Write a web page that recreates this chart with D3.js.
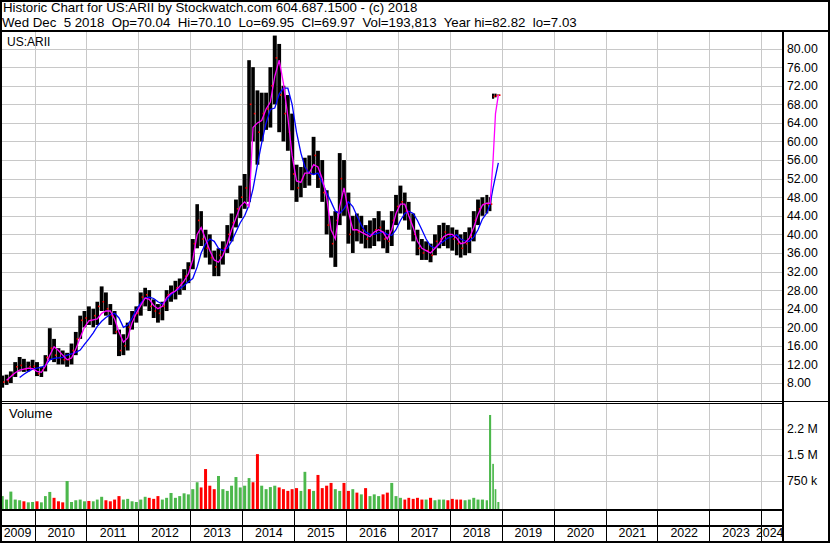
<!DOCTYPE html>
<html><head><meta charset="utf-8">
<script src="https://cdn.jsdelivr.net/npm/d3@7"></script>
<style>
body{margin:0;background:#fff}
svg{display:block}
text{font-family:"Liberation Sans",Arial,sans-serif;fill:#000}
</style>
</head><body>
<svg id="c" width="830" height="543"></svg>
<script>
// ---- DATA (monthly bars) ----
const dates = [
"2009-05","2009-06","2009-07","2009-08","2009-09","2009-10","2009-11","2009-12",
"2010-01","2010-02","2010-03","2010-04","2010-05","2010-06","2010-07","2010-08","2010-09","2010-10","2010-11","2010-12",
"2011-01","2011-02","2011-03","2011-04","2011-05","2011-06","2011-07","2011-08","2011-09","2011-10","2011-11","2011-12",
"2012-01","2012-02","2012-03","2012-04","2012-05","2012-06","2012-07","2012-08","2012-09","2012-10","2012-11","2012-12",
"2013-01","2013-02","2013-03","2013-04","2013-05","2013-06","2013-07","2013-08","2013-09","2013-10","2013-11","2013-12",
"2014-01","2014-02","2014-03","2014-04","2014-05","2014-06","2014-07","2014-08","2014-09","2014-10","2014-11","2014-12",
"2015-01","2015-02","2015-03","2015-04","2015-05","2015-06","2015-07","2015-08","2015-09","2015-10","2015-11","2015-12",
"2016-01","2016-02","2016-03","2016-04","2016-05","2016-06","2016-07","2016-08","2016-09","2016-10","2016-11","2016-12",
"2017-01","2017-02","2017-03","2017-04","2017-05","2017-06","2017-07","2017-08","2017-09","2017-10","2017-11","2017-12",
"2018-01","2018-02","2018-03","2018-04","2018-05","2018-06","2018-07","2018-08","2018-09","2018-10-08","2018-10-29","2018-11-15","2018-12-05"];

const highs = [
9.6,9.8,10.5,12.5,13.6,13.2,12.6,13.0,
12.5,11.5,14.0,19.8,17.5,15.5,15.0,14.5,16.5,19.0,22.5,23.5,
24.5,24.0,25.5,28.8,27.5,25.0,23.5,19.5,18.5,21.0,23.5,24.5,
27.5,28.5,28.0,26.0,25.0,25.5,28.0,29.0,30.0,30.5,32.5,34.0,
39.0,46.5,45.0,41.0,40.0,36.5,37.0,38.5,42.0,44.5,47.5,50.5,
53.0,77.5,76.0,71.0,70.5,70.5,76.0,82.8,81.0,72.0,70.0,66.0,
55.0,54.5,56.5,57.0,61.0,58.0,56.0,49.5,44.0,45.0,57.5,56.0,
49.0,44.0,44.5,44.0,42.0,43.0,43.5,45.0,43.0,41.0,45.0,48.5,
50.5,49.0,47.0,44.5,41.0,39.0,38.5,38.0,40.0,42.0,42.5,42.0,
41.5,41.0,40.0,40.5,41.5,45.0,47.5,48.0,48.5,48.0,70.3,70.3,70.1];

const lows = [
7.0,7.6,8.0,9.3,10.5,10.4,10.5,10.8,
9.5,9.3,10.5,13.0,12.5,12.0,12.0,11.5,12.0,14.0,17.5,20.0,
20.5,20.0,20.5,23.5,22.5,20.5,18.5,13.8,14.0,15.0,19.5,21.0,
22.5,24.5,23.5,22.0,21.0,21.5,23.5,25.5,26.0,27.0,28.0,29.5,
32.5,37.0,37.5,35.0,33.5,31.0,31.0,33.5,36.0,38.5,41.5,43.5,
45.5,47.0,60.0,55.0,60.0,62.5,63.0,68.0,62.0,60.0,58.0,49.5,
47.0,48.0,50.0,50.5,53.0,50.0,47.0,40.0,35.0,33.0,42.0,44.0,
38.0,36.0,38.5,38.0,37.0,37.0,37.5,38.5,37.0,36.0,37.5,42.0,
44.5,43.0,41.0,38.5,35.5,34.5,34.5,34.0,35.5,37.0,37.5,37.0,
36.5,35.5,35.0,35.5,36.0,38.5,42.0,44.0,44.5,45.0,69.2,69.5,69.95];

const closes = [
8.2,8.5,9.8,11.5,11.8,11.0,11.5,11.6,
10.0,10.8,13.5,15.5,14.0,13.5,13.0,13.0,15.0,17.5,21.5,22.0,
21.5,22.5,24.5,25.5,24.0,22.5,19.0,15.0,16.0,20.0,22.5,23.0,
26.5,27.0,24.5,23.5,23.0,24.5,27.0,27.5,28.5,29.5,31.0,33.0,
38.0,43.0,39.0,37.0,35.0,33.0,35.5,37.0,40.0,42.5,45.5,48.0,
50.0,68.0,66.0,62.0,66.0,67.0,72.0,78.0,70.0,66.0,62.0,53.0,
50.0,52.0,54.0,53.0,57.0,52.0,49.0,42.0,38.0,43.0,52.0,46.0,
40.0,41.0,40.5,41.0,39.0,40.0,41.0,41.5,39.0,38.5,43.0,46.0,
47.0,45.0,43.0,40.0,37.0,36.0,36.5,35.5,38.5,39.0,40.5,40.0,
39.0,38.0,37.0,38.0,39.5,43.0,45.5,46.5,46.5,46.5,69.7,69.9,69.97];

// short moving average (magenta) as drawn in the reference
const maShort = [
null,8.6,9.4,10.2,10.8,11.0,11.2,11.1,
10.5,10.3,11.6,14.0,15.8,15.0,14.0,13.0,13.4,15.3,17.8,20.0,
21.4,21.6,21.8,23.0,23.5,23.5,21.8,19.0,16.8,17.7,21.0,23.0,
24.7,26.3,26.0,24.7,24.0,24.5,26.4,27.3,27.8,28.8,30.0,31.5,
34.5,40.0,41.5,39.0,36.5,34.5,34.0,35.5,38.0,41.0,43.5,46.0,
47.0,46.0,63.0,64.0,64.5,67.0,68.5,74.0,77.5,72.5,65.3,57.0,
51.5,51.2,53.2,53.2,55.0,54.5,52.0,48.0,41.0,39.0,46.0,50.0,
45.0,41.0,41.0,40.5,40.0,39.5,40.5,41.0,40.5,39.0,41.0,44.5,
46.5,46.5,44.0,41.5,38.5,37.0,36.5,36.0,37.0,38.0,39.5,40.0,
40.0,39.2,38.0,38.2,39.2,41.5,44.3,46.3,46.7,46.7,56.0,66.0,70.0];

// long moving average (blue) as drawn in the reference
const maLong = [
null,null,null,null,9.2,9.9,10.5,11.0,
11.2,11.4,11.8,13.0,13.3,13.4,13.5,14.0,14.3,14.6,15.1,16.3,
17.5,18.8,20.2,21.3,22.1,22.7,23.0,22.0,20.0,20.5,22.0,23.8,
25.2,26.3,26.5,26.2,25.5,25.0,25.9,27.0,27.8,28.3,29.0,29.8,
30.5,33.0,36.0,38.0,39.0,38.5,37.0,36.5,37.0,38.5,40.5,42.5,
44.0,46.3,49.8,55.0,59.7,64.0,66.9,67.2,70.2,71.5,71.5,68.0,
62.0,57.5,54.5,53.2,52.9,53.2,51.2,49.0,47.0,45.0,44.5,45.5,
47.0,46.0,44.0,42.0,40.5,40.0,40.0,40.3,40.5,40.0,39.8,41.0,
43.0,44.5,45.0,44.5,43.0,41.0,39.0,37.5,37.0,37.8,38.5,39.2,
39.5,39.9,39.0,38.6,38.5,39.4,41.0,43.3,44.6,46.5,50.0,52.5,55.4];

// volume (thousands of shares, peak weekly volume in each period)
const volumes = [
300,200,430,200,180,150,120,130,
150,120,300,420,250,150,120,735,130,180,200,150,
160,150,200,280,180,150,200,300,200,220,150,130,
200,280,250,220,300,200,250,390,250,300,380,350,
500,700,550,1080,600,500,880,500,450,600,850,550,
600,820,700,1510,600,500,560,600,550,500,450,500,
530,450,1000,500,450,910,530,600,680,500,450,680,
450,500,400,350,530,300,350,300,350,400,680,300,
250,200,250,220,250,200,200,250,180,200,200,180,
220,200,200,180,200,250,200,200,180,2640,1230,500,130];

const priceTicks = [8,12,16,20,24,28,32,36,40,44,48,52,56,60,64,68,72,76,80];
const volTicks = [750000,1500000,2250000];
const volTickLabels = ["750 k","1.5 M","2.2 M"];
const years = [2009,2010,2011,2012,2013,2014,2015,2016,2017,2018,2019,2020,2021,2022,2023,2024];

// ---- LAYOUT ----
const L = 2, R = 782;
const pTop = 31, pBot = 401;
const vTop = 404, vBot = 509;

const parse = s => s.length === 7 ? new Date(+s.slice(0,4), +s.slice(5,7)-1, 15)
                                  : new Date(+s.slice(0,4), +s.slice(5,7)-1, +s.slice(8,10));
const x = d3.scaleTime().domain([new Date(2010,0,1), new Date(2024,0,1)]).range([35, 761.7]);
const y = d3.scaleLinear().domain([4, 84]).range([401.6, 30]);
const yv = d3.scaleLinear().domain([0, 3000000]).range([506.5, 402.5]);

const svg = d3.select("#c");
svg.append("rect").attr("width",830).attr("height",543).attr("fill","#fff");

const defs = svg.append("defs");
defs.append("clipPath").attr("id","cp").append("rect").attr("x",L).attr("y",pTop).attr("width",R-L).attr("height",pBot-pTop);
defs.append("clipPath").attr("id","cv").append("rect").attr("x",L).attr("y",vTop).attr("width",R-L).attr("height",vBot-vTop);

const grid = svg.append("g").attr("stroke","#c8c8c8").attr("stroke-width",1).attr("shape-rendering","crispEdges");
const yearBounds = years.slice(1).map(yr => x(new Date(yr,0,1)));
yearBounds.forEach(xx => {
  grid.append("line").attr("x1",xx).attr("x2",xx).attr("y1",pTop).attr("y2",pBot);
  grid.append("line").attr("x1",xx).attr("x2",xx).attr("y1",vTop).attr("y2",vBot);
});
priceTicks.forEach(v => grid.append("line").attr("x1",L).attr("x2",R).attr("y1",Math.round(y(v))+0.5).attr("y2",Math.round(y(v))+0.5));
volTicks.forEach(v => grid.append("line").attr("x1",L).attr("x2",R).attr("y1",Math.round(yv(v))+0.5).attr("y2",Math.round(yv(v))+0.5));

// ---- PRICE BARS ----
const xs = dates.map(d => x(parse(d)));
const ws = xs.map((xc,i) => {
  const l = i>0 ? xc - xs[i-1] : xs[1]-xs[0];
  const r = i<xs.length-1 ? xs[i+1]-xc : l;
  return Math.min(l,r);
});
const pg = svg.append("g").attr("clip-path","url(#cp)");
pg.selectAll("rect.bar").data(dates).join("rect").attr("class","bar")
  .attr("x",(d,i)=>xs[i]-ws[i]*0.45).attr("width",(d,i)=>ws[i]*0.9)
  .attr("y",(d,i)=>y(highs[i])).attr("height",(d,i)=>y(lows[i])-y(highs[i]))
  .attr("fill","#000");
pg.selectAll("rect.cl").data(dates).join("rect").attr("class","cl")
  .attr("x",(d,i)=>xs[i]+ws[i]*0.2).attr("width",1.6)
  .attr("y",(d,i)=>y(closes[i])-0.8).attr("height",1.6)
  .attr("fill","#ff0000");

const line = d3.line().defined(d => d[1] != null).x(d => d[0]).y(d => y(d[1]));
pg.append("path").attr("d", line(xs.map((xx,i)=>[xx,maLong[i]])))
  .attr("fill","none").attr("stroke","#0000ff").attr("stroke-width",1.3);
pg.append("path").attr("d", line(xs.map((xx,i)=>[xx,maShort[i]])))
  .attr("fill","none").attr("stroke","#ff00ff").attr("stroke-width",1.3);

// ---- VOLUME ----
const vg = svg.append("g").attr("clip-path","url(#cv)");
vg.selectAll("rect").data(dates).join("rect")
  .attr("x",(d,i)=>xs[i]-ws[i]*0.35).attr("width",(d,i)=>Math.max(1,ws[i]*0.7))
  .attr("y",(d,i)=>yv(volumes[i]*1000)).attr("height",(d,i)=>vBot - yv(volumes[i]*1000))
  .attr("fill",(d,i)=> i===0 || closes[i] >= closes[i-1] ? "#4cb84c" : "#ff0000");

// ---- AXES ----
const pAxis = svg.append("g").attr("transform",`translate(787,0)`)
  .call(d3.axisRight(y).tickValues(priceTicks).tickFormat(d3.format(".2f")).tickSize(0).tickPadding(0));
pAxis.select(".domain").remove();
pAxis.selectAll("text").attr("font-size","12.3px").attr("font-family","Liberation Sans, Arial, sans-serif").attr("fill","#000");

const vAxis = svg.append("g").attr("transform",`translate(787,0)`)
  .call(d3.axisRight(yv).tickValues(volTicks).tickFormat((d,i)=>volTickLabels[i]).tickSize(0).tickPadding(0));
vAxis.select(".domain").remove();
vAxis.selectAll("text").attr("font-size","12.3px").attr("font-family","Liberation Sans, Arial, sans-serif").attr("fill","#000");

const xAxis = svg.append("g").attr("transform",`translate(0,528)`)
  .call(d3.axisBottom(x).tickValues(years.map(yr=>new Date(yr,6,1))).tickFormat(d3.timeFormat("%Y")).tickSize(0).tickPadding(0));
xAxis.select(".domain").remove();
xAxis.selectAll("text").attr("font-size","12.4px").attr("font-family","Liberation Sans, Arial, sans-serif").attr("fill","#000").attr("dy","0.72em");
xAxis.selectAll(".tick").each(function(d){
  const yr = d.getFullYear();
  if (yr === 2009) d3.select(this).attr("transform","translate(17.5,0)");
  if (yr === 2024) { d3.select(this).attr("transform","translate(783.5,0)"); d3.select(this).select("text").attr("text-anchor","end"); }
});

// ---- FRAME ----
const fr = svg.append("g").attr("stroke","#000").attr("shape-rendering","crispEdges");
fr.append("line").attr("x1",0).attr("x2",830).attr("y1",30.5).attr("y2",30.5).attr("stroke-width",2);
fr.append("line").attr("x1",0).attr("x2",830).attr("y1",401).attr("y2",401).attr("stroke-width",1);
fr.append("line").attr("x1",0).attr("x2",R).attr("y1",403).attr("y2",403).attr("stroke-width",1);
fr.append("line").attr("x1",0).attr("x2",R).attr("y1",509.5).attr("y2",509.5).attr("stroke-width",2);
fr.append("line").attr("x1",0).attr("x2",R).attr("y1",526).attr("y2",526).attr("stroke-width",2);
yearBounds.forEach(xx => fr.append("line").attr("x1",xx).attr("x2",xx).attr("y1",510).attr("y2",543).attr("stroke-width",1));
fr.append("line").attr("x1",782.7).attr("x2",782.7).attr("y1",31).attr("y2",543).attr("stroke-width",2);
fr.append("rect").attr("x",1).attr("y",1).attr("width",828).attr("height",541).attr("fill","none").attr("stroke-width",2);

// ---- TEXTS ----
const t1 = svg.append("text").attr("x",3).attr("y",12).attr("font-size","13px")
  .text("Historic Chart for US:ARII by Stockwatch.com 604.687.1500 - (c) 2018");
const len = t1.node().getComputedTextLength();
const fs = 13 * 415 / len;
t1.attr("font-size", fs + "px");
svg.append("text").attr("x",2).attr("y",27).attr("font-size", fs + "px").style("white-space","pre")
  .text("Wed Dec  5 2018  Op=70.04  Hi=70.10  Lo=69.95  Cl=69.97  Vol=193,813  Year hi=82.82  lo=7.03");
svg.append("text").attr("x",7).attr("y",46).attr("font-size","12px").text("US:ARII");
svg.append("text").attr("x",9).attr("y",418).attr("font-size","13px").text("Volume");
</script>
</body></html>
